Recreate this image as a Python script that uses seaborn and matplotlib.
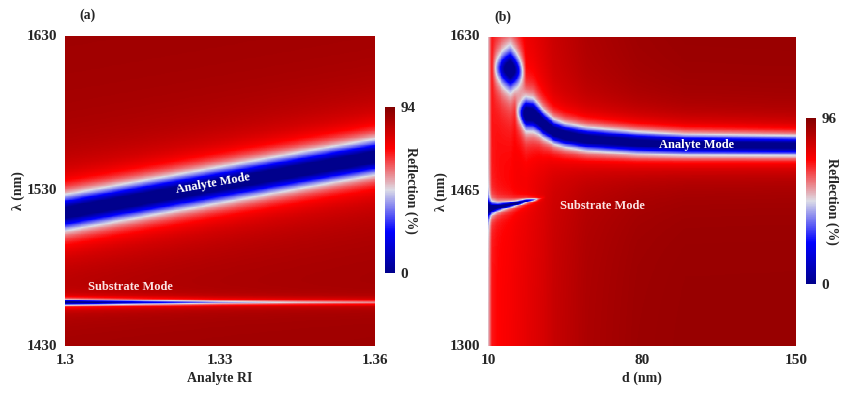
import matplotlib

matplotlib.use("Agg")

import matplotlib.pyplot as plt
import numpy as np
import seaborn as sns

# ---- panel (a): reflection map vs analyte RI ----
RI_RANGE = (1.30, 1.36)
WL_RANGE_A = (1430, 1630)
RI_TICKS = [1.30, 1.33, 1.36]
RI_TICK_LABELS = ["1.3", "1.33", "1.36"]
WL_TICKS_A = [1630, 1530, 1430]
CBAR_MAX_A = 94

BG_RI = [1.30, 1.36]
BG_A = [89, 89]

ANALYTE_RI = [1.30, 1.315, 1.33, 1.345, 1.36]
ANALYTE_WL_A = [1516, 1525, 1534, 1543, 1552]
ANALYTE_DEPTH_A = [100, 100, 100, 100, 100]
ANALYTE_HW_A = [10, 10, 10, 10, 10]

SUBSTRATE_RI = [1.30, 1.315, 1.33, 1.345, 1.36]
SUBSTRATE_WL_A = [1458, 1458, 1458, 1458, 1458]
SUBSTRATE_DEPTH_A = [100, 68, 48, 38, 32]
SUBSTRATE_HW_A = [1.5, 1.5, 1.5, 1.5, 1.5]

# ---- panel (b): reflection map vs layer thickness d ----
D_RANGE = (10, 150)
WL_RANGE_B = (1300, 1630)
D_TICKS = [10, 80, 150]
WL_TICKS_B = [1630, 1465, 1300]
CBAR_MAX_B = 96

BG_D = [10, 11.5, 14, 20, 25, 30, 35, 40, 55, 78, 100, 150]
BG_B = [52, 70, 72, 74, 76, 78, 80, 83, 88, 91, 92, 92]

ANALYTE_D = [22, 24.5, 27, 30.5, 33, 35, 38, 40, 45, 55, 78, 100, 150]
ANALYTE_WL_B = [1551, 1549, 1548, 1547, 1542, 1537, 1532, 1529, 1525, 1521, 1517, 1515, 1514]
ANALYTE_DEPTH_B = [0, 40, 100, 100, 100, 100, 100, 100, 100, 100, 100, 100, 100]
ANALYTE_HW_B = [12, 12, 12, 12, 11, 10.5, 10, 10, 10, 10.5, 10.5, 10, 9.5]

UPPER_D = [11.5, 14, 20, 22, 24.5, 27]
UPPER_WL_B = [1598, 1597, 1596, 1595, 1594, 1593]
UPPER_DEPTH_B = [0, 35, 100, 75, 38, 0]
UPPER_HW_B = [15.5, 15.5, 15.5, 15.5, 15.5, 15.5]

SUBSTRATE_D = [10, 11.5, 14, 20, 22, 24.5, 27, 30.5, 33, 36]
SUBSTRATE_WL_B = [1447, 1447.5, 1448.5, 1451, 1452, 1453.5, 1455, 1456, 1457, 1459]
SUBSTRATE_DEPTH_B = [100, 97, 93, 88, 85, 78, 65, 45, 15, 0]
SUBSTRATE_HW_B = [5, 4, 3, 2.2, 2, 1.8, 1.6, 1.4, 1.3, 1.2]

NX, NY = 320, 400
FONT = "Liberation Serif"


def reflection_map(x, wl, bg_knots, background, modes):
    level = np.interp(x, bg_knots, background)[None, :]
    grid = np.repeat(level, len(wl), axis=0).astype(float)
    for knots, centers, depths, widths in modes:
        c = np.interp(x, knots, centers)[None, :]
        dep = np.interp(x, knots, depths, left=depths[0], right=depths[-1])[None, :]
        hw = np.interp(x, knots, widths)[None, :]
        grid -= dep / (1 + ((wl[:, None] - c) / hw) ** 2)
    return np.clip(grid, 0, None)


def to_cell(value, lo, hi, n, flip=False):
    frac = (value - lo) / (hi - lo)
    return (1 - frac) * n if flip else frac * n


def draw_panel(fig, ax_rect, cbar_rect, x_range, wl_range, z, vmax,
               x_ticks, x_labels, wl_ticks, xlabel, cmap):
    ax = fig.add_axes(ax_rect)
    cax = fig.add_axes(cbar_rect)
    sns.heatmap(z, ax=ax, cbar_ax=cax, cmap=cmap, vmin=0, vmax=vmax,
                xticklabels=False, yticklabels=False, rasterized=True,
                cbar_kws={"ticks": [0, vmax]})

    ax.set_xticks([to_cell(v, *x_range, NX) for v in x_ticks])
    ax.set_xticklabels(x_labels, fontsize=11, fontweight="bold", rotation=0)
    ax.set_yticks([to_cell(v, *wl_range, NY, flip=True) for v in wl_ticks])
    ax.set_yticklabels([str(v) for v in wl_ticks], fontsize=11,
                       fontweight="bold", rotation=0, va="center")
    ax.tick_params(axis="both", direction="inout", length=7, width=2,
                   color="black", pad=2)
    for axis_ticks in (ax.xaxis.get_major_ticks(), ax.yaxis.get_major_ticks()):
        axis_ticks[0].tick1line.set_visible(False)
        axis_ticks[-1].tick1line.set_visible(False)
    ax.set_xlabel(xlabel, fontsize=10, fontweight="bold")
    ax.xaxis.set_label_coords(0.5, -0.084)
    ax.set_ylabel("λ (nm)", fontsize=10, fontweight="bold")
    ax.yaxis.set_label_coords(-0.13, 0.5)

    cax.tick_params(length=0, pad=4)
    cax.set_yticklabels(["0", str(vmax)], fontsize=11, fontweight="bold")
    cax.set_ylabel("Reflection (%)", rotation=270, fontsize=10,
                   fontweight="bold", va="center")
    cax.yaxis.set_label_coords(2.6, 0.5)
    return ax


sns.set_theme(style="white")
plt.rcParams["font.family"] = [FONT, "DejaVu Serif"]
plt.rcParams["font.weight"] = "bold"

cmap = sns.blend_palette(["#00008c", "#0000ff", "#dcdce6", "#ff0000", "#820000"],
                         as_cmap=True)

ri = np.linspace(*RI_RANGE, NX)
wl_a = np.linspace(WL_RANGE_A[1], WL_RANGE_A[0], NY)
z_a = reflection_map(ri, wl_a, BG_RI, BG_A, [
    (ANALYTE_RI, ANALYTE_WL_A, ANALYTE_DEPTH_A, ANALYTE_HW_A),
    (SUBSTRATE_RI, SUBSTRATE_WL_A, SUBSTRATE_DEPTH_A, SUBSTRATE_HW_A),
])

d = np.linspace(*D_RANGE, NX)
wl_b = np.linspace(WL_RANGE_B[1], WL_RANGE_B[0], NY)
z_b = reflection_map(d, wl_b, BG_D, BG_B, [
    (ANALYTE_D, ANALYTE_WL_B, ANALYTE_DEPTH_B, ANALYTE_HW_B),
    (UPPER_D, UPPER_WL_B, UPPER_DEPTH_B, UPPER_HW_B),
    (SUBSTRATE_D, SUBSTRATE_WL_B, SUBSTRATE_DEPTH_B, SUBSTRATE_HW_B),
])

W, H = 850, 397
fig = plt.figure(figsize=(W / 100, H / 100), dpi=100)

ax_a = draw_panel(fig, [65 / W, 1 - 346 / H, 310 / W, 310 / H],
                  [385 / W, 1 - 273 / H, 10 / W, 166 / H],
                  RI_RANGE, WL_RANGE_A, z_a, CBAR_MAX_A,
                  RI_TICKS, RI_TICK_LABELS, WL_TICKS_A, "Analyte RI", cmap)
ax_b = draw_panel(fig, [488 / W, 1 - 346 / H, 308 / W, 309 / H],
                  [806 / W, 1 - 284 / H, 10 / W, 166 / H],
                  D_RANGE, WL_RANGE_B, z_b, CBAR_MAX_B,
                  D_TICKS, [str(v) for v in D_TICKS], WL_TICKS_B, "d (nm)", cmap)

ax_a.text(to_cell(1.3286, *RI_RANGE, NX), to_cell(1535, *WL_RANGE_A, NY, flip=True),
          "Analyte Mode", color="white", fontsize=9, fontweight="bold",
          rotation=10, ha="center", va="center")
ax_a.text(to_cell(1.3126, *RI_RANGE, NX), to_cell(1468, *WL_RANGE_A, NY, flip=True),
          "Substrate Mode", color="#fbe3e3", fontsize=9, fontweight="bold",
          ha="center", va="center")
ax_b.text(to_cell(105, *D_RANGE, NX), to_cell(1515, *WL_RANGE_B, NY, flip=True),
          "Analyte Mode", color="white", fontsize=9, fontweight="bold",
          ha="center", va="center")
ax_b.text(to_cell(62, *D_RANGE, NX), to_cell(1450, *WL_RANGE_B, NY, flip=True),
          "Substrate Mode", color="#fbe3e3", fontsize=9, fontweight="bold",
          ha="center", va="center")

fig.text(87 / W, 1 - 15 / H, "(a)", fontsize=10, fontweight="bold",
         ha="center", va="center")
fig.text(503 / W, 1 - 17 / H, "(b)", fontsize=10, fontweight="bold",
         ha="center", va="center")

fig.savefig("out.png", dpi=100)
